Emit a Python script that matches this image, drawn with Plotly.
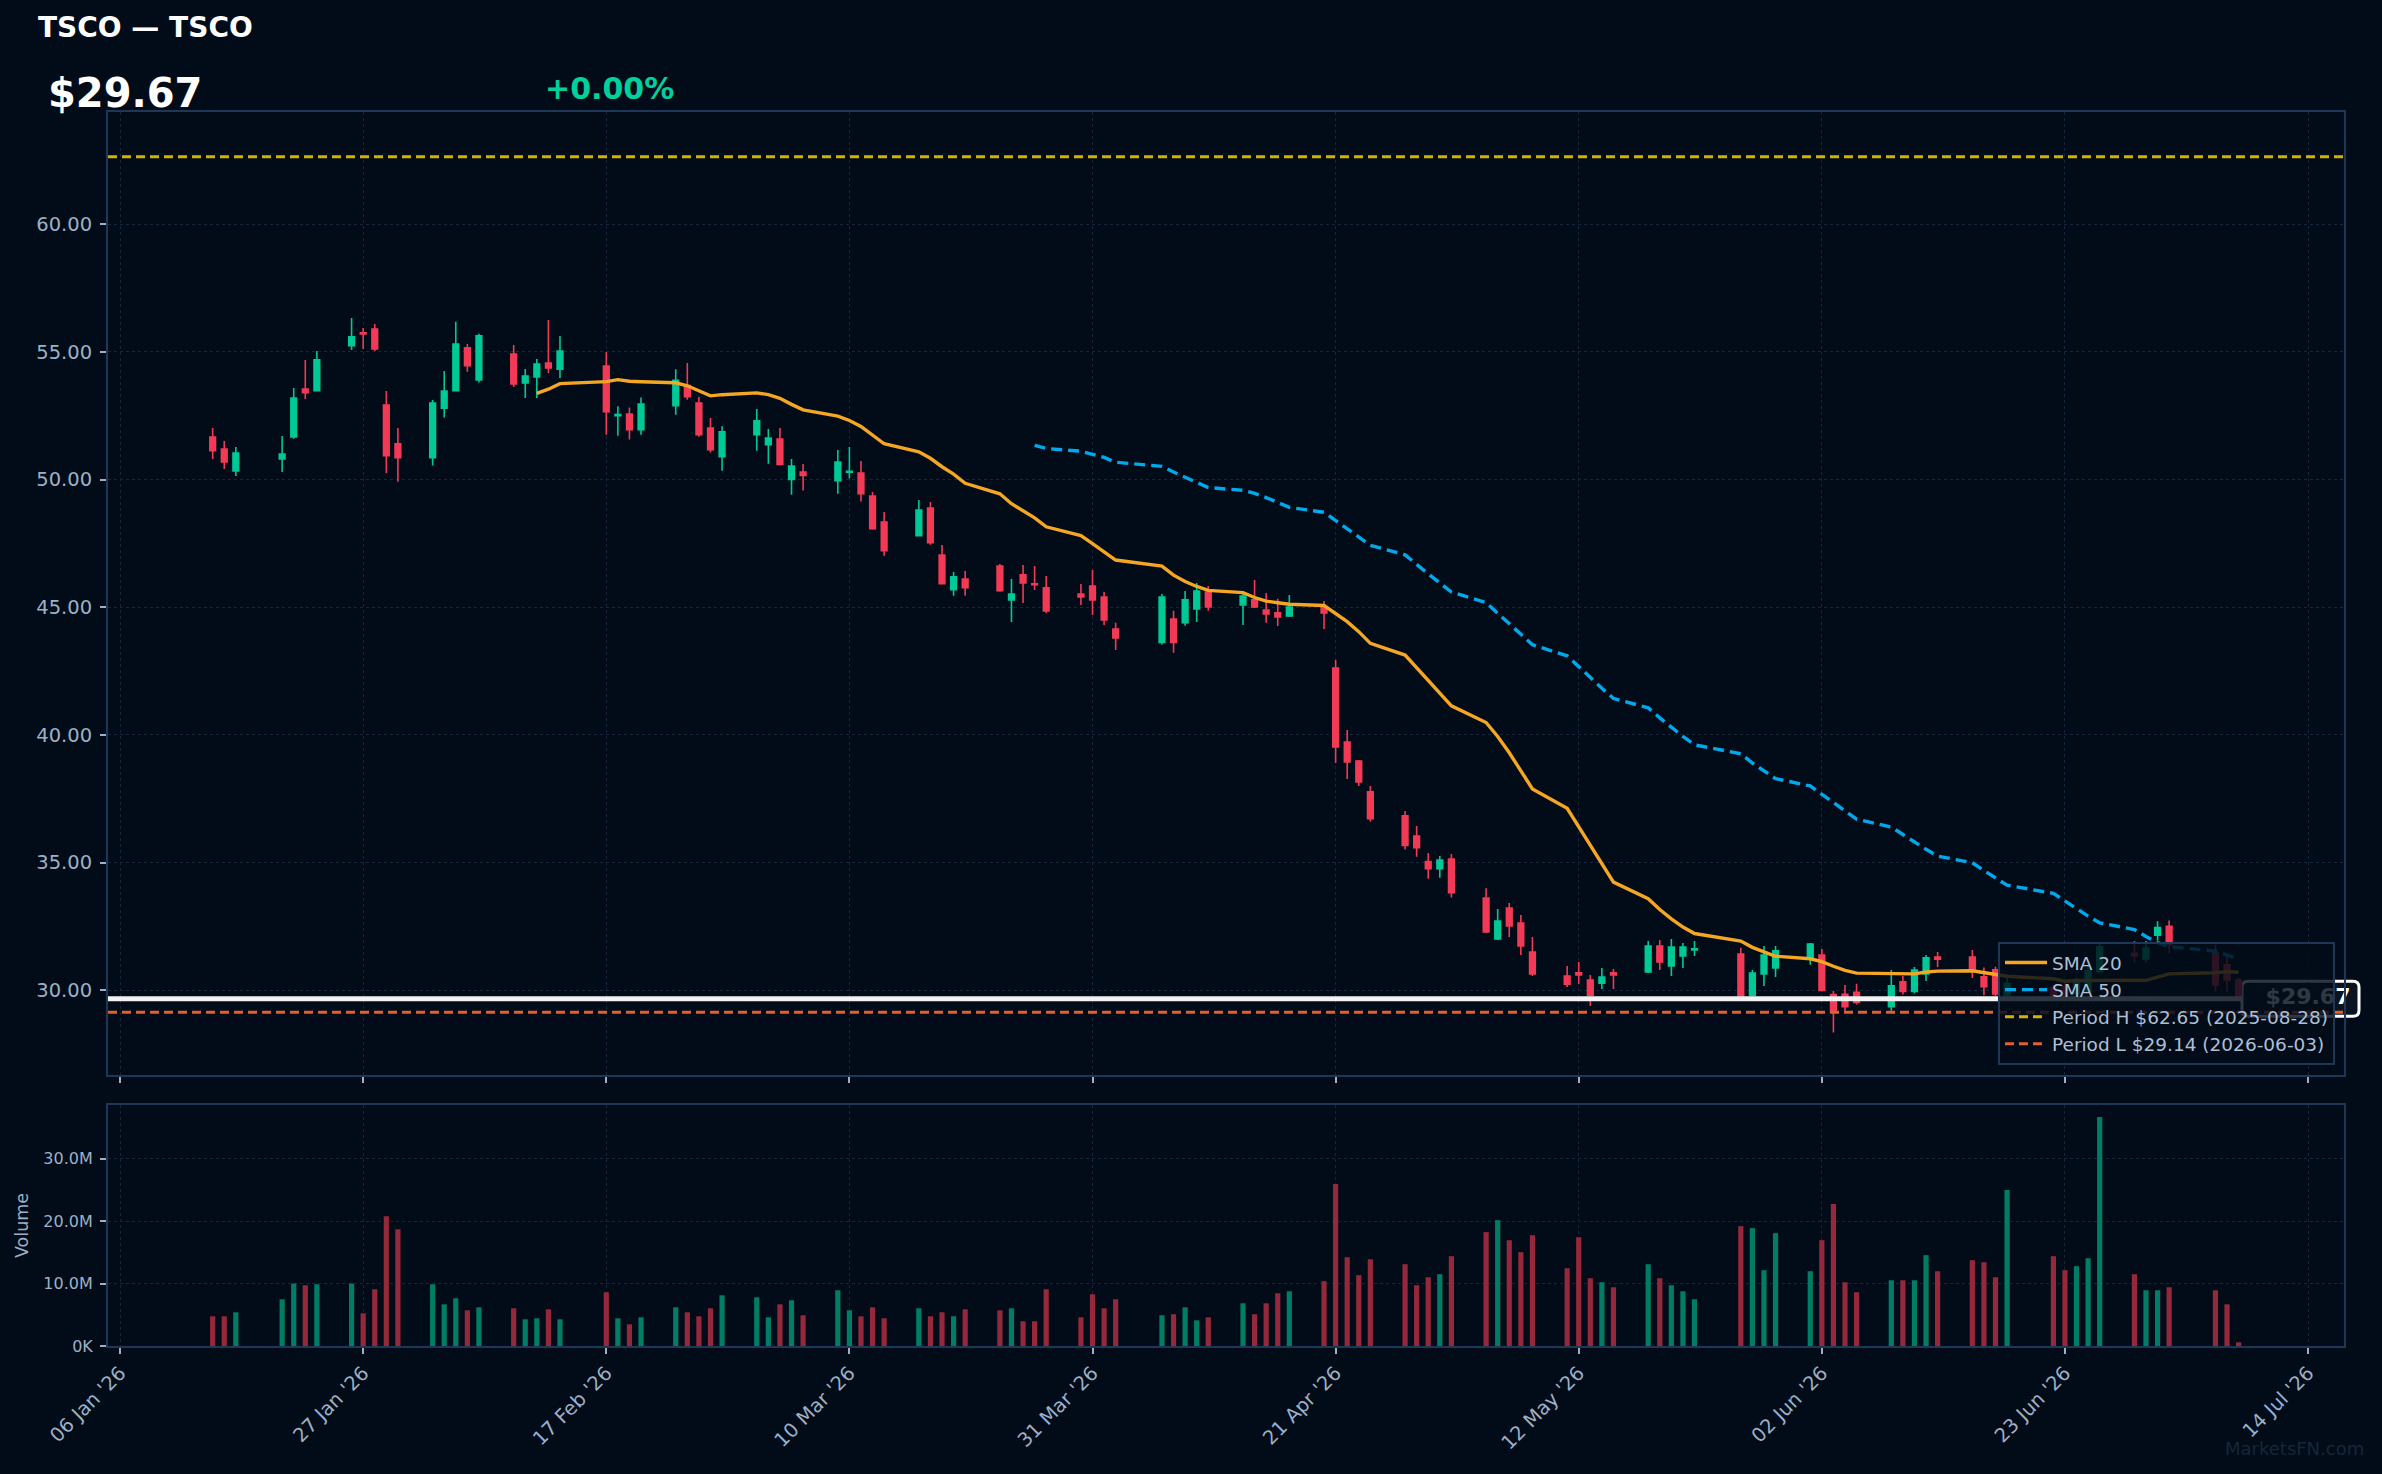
import plotly.graph_objects as go
from plotly.subplots import make_subplots
import pandas as pd

# ---------------- data ----------------
dates = [
    "2026-01-14", "2026-01-15", "2026-01-16",
    "2026-01-20", "2026-01-21", "2026-01-22", "2026-01-23",
    "2026-01-26", "2026-01-27", "2026-01-28", "2026-01-29", "2026-01-30",
    "2026-02-02", "2026-02-03", "2026-02-04", "2026-02-05", "2026-02-06",
    "2026-02-09", "2026-02-10", "2026-02-11", "2026-02-12", "2026-02-13",
    "2026-02-17", "2026-02-18", "2026-02-19", "2026-02-20",
    "2026-02-23", "2026-02-24", "2026-02-25", "2026-02-26", "2026-02-27",
    "2026-03-02", "2026-03-03", "2026-03-04", "2026-03-05", "2026-03-06",
    "2026-03-09", "2026-03-10", "2026-03-11", "2026-03-12", "2026-03-13",
    "2026-03-16", "2026-03-17", "2026-03-18", "2026-03-19", "2026-03-20",
    "2026-03-23", "2026-03-24", "2026-03-25", "2026-03-26", "2026-03-27",
    "2026-03-30", "2026-03-31", "2026-04-01", "2026-04-02",
    "2026-04-06", "2026-04-07", "2026-04-08", "2026-04-09", "2026-04-10",
    "2026-04-13", "2026-04-14", "2026-04-15", "2026-04-16", "2026-04-17",
    "2026-04-20", "2026-04-21", "2026-04-22", "2026-04-23", "2026-04-24",
    "2026-04-27", "2026-04-28", "2026-04-29", "2026-04-30", "2026-05-01",
    "2026-05-04", "2026-05-05", "2026-05-06", "2026-05-07", "2026-05-08",
    "2026-05-11", "2026-05-12", "2026-05-13", "2026-05-14", "2026-05-15",
    "2026-05-18", "2026-05-19", "2026-05-20", "2026-05-21", "2026-05-22",
    "2026-05-26", "2026-05-27", "2026-05-28", "2026-05-29",
    "2026-06-01", "2026-06-02", "2026-06-03", "2026-06-04", "2026-06-05",
    "2026-06-08", "2026-06-09", "2026-06-10", "2026-06-11", "2026-06-12",
    "2026-06-15", "2026-06-16", "2026-06-17", "2026-06-18",
    "2026-06-22", "2026-06-23", "2026-06-24", "2026-06-25", "2026-06-26",
    "2026-06-29", "2026-06-30", "2026-07-01", "2026-07-02",
    "2026-07-06", "2026-07-07", "2026-07-08",
]

opens = [
    51.67, 51.20, 50.34,
    50.81, 51.67, 53.55, 53.48,
    55.25, 55.75, 55.90, 52.92, 51.40,
    50.86, 52.80, 53.48, 55.16, 53.90,
    54.92, 53.79, 54.02, 54.57, 54.33,
    54.45, 52.50, 52.57, 51.96,
    52.90, 53.69, 53.00, 52.02, 50.90,
    51.76, 51.37, 51.59, 50.01, 50.30,
    49.96, 50.29, 50.26, 49.36, 48.34,
    47.80, 48.89, 47.05, 45.69, 46.11,
    46.62, 45.29, 46.27, 45.92, 45.76,
    45.52, 45.83, 45.40, 44.15,
    43.62, 44.54, 44.40, 44.93, 45.60,
    45.09, 45.29, 44.89, 44.78, 44.66,
    45.01, 42.62, 39.72, 38.98, 37.77,
    36.83, 36.04, 35.04, 34.76, 35.14,
    33.61, 32.01, 33.22, 32.63, 31.50,
    30.56, 30.68, 30.40, 30.28, 30.68,
    30.72, 31.73, 30.95, 31.34, 31.58,
    31.42, 29.80, 30.64, 30.87,
    31.27, 31.38, 29.83, 29.84, 29.92,
    29.36, 30.33, 29.95, 30.64, 31.30,
    31.30, 30.53, 30.80, 29.80,
    30.10, 30.15, 29.85, 29.95, 30.73,
    31.45, 31.23, 32.16, 32.50,
    31.46, 31.00, 30.40,
]

highs = [
    52.02, 51.51, 51.28,
    51.71, 53.59, 54.69, 55.04,
    56.33, 55.94, 56.10, 53.47, 52.02,
    53.12, 54.26, 56.18, 55.31, 55.71,
    55.27, 54.33, 54.73, 56.25, 55.63,
    55.00, 52.87, 52.83, 53.22,
    54.32, 54.57, 53.24, 52.41, 52.09,
    52.77, 51.98, 52.02, 50.81, 50.61,
    51.16, 51.28, 50.73, 49.52, 48.73,
    49.20, 49.12, 47.44, 46.38, 46.42,
    46.70, 46.11, 46.66, 46.62, 46.23,
    45.91, 46.46, 45.60, 44.39,
    45.52, 44.86, 45.64, 45.95, 45.83,
    45.52, 46.07, 45.56, 45.33, 45.48,
    45.25, 42.94, 40.19, 39.02, 38.00,
    37.02, 36.43, 35.38, 35.26, 35.34,
    33.99, 33.18, 33.42, 32.95, 32.09,
    30.95, 31.11, 30.60, 30.87, 30.83,
    31.93, 31.97, 32.01, 31.85, 31.93,
    31.66, 30.79, 31.73, 31.73,
    31.85, 31.62, 29.97, 30.21, 30.25,
    30.79, 30.56, 30.91, 31.38, 31.50,
    31.58, 30.89, 30.92, 30.50,
    30.20, 30.30, 30.50, 31.10, 31.83,
    31.93, 31.93, 32.70, 32.73,
    31.78, 31.38, 30.50,
]

lows = [
    50.81, 50.42, 50.14,
    50.30, 51.60, 53.16, 53.45,
    55.08, 55.12, 55.04, 50.26, 49.92,
    50.55, 52.43, 53.45, 54.23, 53.80,
    53.63, 53.20, 53.20, 54.18, 53.98,
    51.76, 51.72, 51.57, 51.76,
    52.54, 53.13, 51.68, 51.06, 50.35,
    51.13, 50.62, 50.55, 49.41, 49.57,
    49.45, 50.04, 49.14, 48.04, 47.02,
    47.78, 47.45, 45.90, 45.45, 45.45,
    45.61, 44.42, 45.17, 45.68, 44.78,
    45.09, 44.70, 44.31, 43.33,
    43.54, 43.22, 44.28, 44.42, 44.86,
    44.31, 44.97, 44.39, 44.27, 44.62,
    44.15, 38.90, 38.27, 38.00, 36.61,
    35.51, 35.23, 34.37, 34.41, 33.63,
    32.24, 31.97, 32.09, 31.38, 30.56,
    30.13, 30.24, 29.38, 30.05, 30.05,
    30.68, 30.79, 30.56, 30.87, 31.34,
    29.68, 29.75, 30.17, 30.52,
    31.00, 29.95, 28.34, 29.16, 29.44,
    29.20, 29.83, 29.87, 30.36, 30.91,
    30.48, 29.80, 29.75, 29.72,
    29.55, 29.60, 29.80, 29.90, 30.70,
    31.10, 31.10, 31.95, 31.46,
    29.95, 29.95, 29.60,
]

closes = [
    51.13, 50.69, 51.04,
    51.00, 53.20, 53.41, 54.69,
    55.59, 55.71, 55.12, 50.94, 50.86,
    53.00, 53.47, 55.31, 54.46, 55.63,
    53.75, 54.06, 54.53, 54.37, 55.04,
    52.66, 52.55, 51.96, 52.96,
    53.89, 53.25, 51.76, 51.17, 51.87,
    52.30, 51.63, 50.59, 50.53, 50.16,
    50.69, 50.33, 49.45, 48.08, 47.22,
    48.81, 47.53, 45.92, 46.19, 45.77,
    45.65, 45.52, 45.95, 45.88, 44.86,
    45.40, 45.29, 44.50, 43.80,
    45.40, 43.62, 45.29, 45.64, 45.01,
    45.44, 45.01, 44.74, 44.62, 45.01,
    44.78, 39.53, 38.94, 38.16, 36.72,
    35.67, 35.58, 34.76, 35.10, 33.82,
    32.28, 32.71, 32.52, 31.73, 30.64,
    30.24, 30.60, 29.81, 30.52, 30.60,
    31.73, 31.11, 31.69, 31.69, 31.62,
    29.75, 30.67, 31.38, 31.54,
    31.81, 29.99, 29.14, 29.36, 29.52,
    30.17, 29.95, 30.79, 31.27, 31.22,
    30.83, 30.14, 29.85, 30.27,
    29.70, 29.75, 30.30, 30.76, 31.70,
    31.35, 31.65, 32.46, 31.78,
    30.21, 30.40, 29.67,
]

volumes_m = [
    4.76, 4.76, 5.40,
    7.49, 10.00, 9.73, 9.89,
    10.00, 5.24, 9.09, 20.80, 18.70,
    9.89, 6.68, 7.65, 5.72, 6.20,
    6.04, 4.28, 4.44, 5.88, 4.28,
    8.61, 4.44, 3.48, 4.60,
    6.20, 5.40, 4.76, 6.04, 8.13,
    7.81, 4.60, 6.68, 7.33, 4.92,
    8.93, 5.72, 4.76, 6.20, 4.44,
    6.04, 4.76, 5.40, 4.76, 5.88,
    5.72, 6.04, 3.96, 3.96, 9.09,
    4.60, 8.29, 6.04, 7.49,
    4.92, 5.08, 6.20, 4.12, 4.60,
    6.84, 5.08, 6.84, 8.45, 8.77,
    10.37, 25.94, 14.22, 11.34, 13.90,
    13.10, 9.73, 11.02, 11.50, 14.39,
    18.24, 20.16, 16.95, 15.03, 17.75,
    12.46, 17.43, 10.86, 10.21, 9.41,
    13.10, 10.86, 9.73, 8.77, 7.49,
    19.20, 18.88, 12.14, 18.07,
    11.98, 16.95, 22.73, 10.21, 8.61,
    10.53, 10.53, 10.53, 14.55, 11.98,
    13.74, 13.42, 11.02, 24.97,
    14.39, 12.14, 12.78, 14.06, 36.68,
    11.50, 8.93, 8.93, 9.41,
    8.93, 6.68, 0.59,
]

ticker = "TSCO"
last_price = 29.67
change_pct = 0.00
period_high = 62.65
period_high_date = "2025-08-28"
period_low = 29.14
period_low_date = "2026-06-03"
vol_tickvals = [0, 10e6, 20e6, 30e6]
vol_ticktext = ["0K", "10.0M", "20.0M", "30.0M"]

# ---------------- styling ----------------
BG = "#010c18"
UP = "#00c896"
DOWN = "#f23a56"
VOL_UP = "#007d64"
VOL_DOWN = "#95283a"
SMA20_C = "#f5a623"
SMA50_C = "#00a8ec"
PH_C = "#d4b106"
PL_C = "#e0602e"
SPINE = "#1e3756"
GRID = "#15263a"
TXT = "#9db0c6"
FONT = "DejaVu Sans"

df = pd.DataFrame({"date": pd.to_datetime(dates), "open": opens, "high": highs,
                   "low": lows, "close": closes, "volume": [v * 1e6 for v in volumes_m]})
df["sma20"] = df["close"].rolling(20).mean()
df["sma50"] = df["close"].rolling(50).mean()
vol_colors = [VOL_UP if c >= o else VOL_DOWN for o, c in zip(df["open"], df["close"])]

W, H = 2382, 1474
ML, MR, MT, MB = 108, 38, 112, 128

fig = make_subplots(rows=2, cols=1, shared_xaxes=True, vertical_spacing=0.0,
                    row_heights=[0.8, 0.2])

fig.add_trace(go.Candlestick(
    x=df["date"], open=df["open"], high=df["high"], low=df["low"], close=df["close"],
    increasing=dict(line=dict(color=UP, width=1.6), fillcolor=UP),
    decreasing=dict(line=dict(color=DOWN, width=1.6), fillcolor=DOWN),
    showlegend=False, name=ticker), row=1, col=1)

fig.add_trace(go.Scatter(x=df["date"], y=df["sma20"], mode="lines", name="SMA 20",
                         line=dict(color=SMA20_C, width=3.4)), row=1, col=1)
fig.add_trace(go.Scatter(x=df["date"], y=df["sma50"], mode="lines", name="SMA 50",
                         line=dict(color=SMA50_C, width=3.4, dash="11px,6px")), row=1, col=1)
fig.add_trace(go.Scatter(x=[None], y=[None], mode="lines",
                         name=f"Period H ${period_high:.2f} ({period_high_date})",
                         line=dict(color=PH_C, width=3, dash="9px,5px")), row=1, col=1)
fig.add_trace(go.Scatter(x=[None], y=[None], mode="lines",
                         name=f"Period L ${period_low:.2f} ({period_low_date})",
                         line=dict(color=PL_C, width=3, dash="9px,5px")), row=1, col=1)

# last price label text (box drawn as a shape below)
fig.add_trace(go.Scatter(x=["2026-07-14"], y=[last_price], mode="text",
                         text=[f"${last_price:.2f}"], cliponaxis=False, showlegend=False,
                         textfont=dict(family=FONT, size=22, color="#ffffff", weight="bold"),
                         hoverinfo="skip"), row=1, col=1)

fig.add_trace(go.Bar(x=df["date"], y=df["volume"], marker=dict(color=vol_colors, line=dict(width=0)),
                     width=0.45 * 86400000, showlegend=False, name="Volume"), row=2, col=1)

plot_h = H - MT - MB
main_bottom = (H - MB - 1075) / plot_h
vol_top = (H - MB - 1105) / plot_h

def paper_x(px):
    return (px - ML) / (W - ML - MR)

def paper_y(py):
    return (H - MB - py) / plot_h

xrange = ["2026-01-04 23:00", "2026-07-17 02:30"]
xcommon = dict(range=xrange, type="date", showgrid=True, gridcolor=GRID, griddash="dot", gridwidth=1,
               showline=True, linecolor=SPINE, linewidth=2, mirror=True,
               ticks="outside", ticklen=6, tickcolor=TXT, tickwidth=1.5,
               tick0="2026-01-06", dtick=21 * 86400000, zeroline=False)
ycommon = dict(showgrid=True, gridcolor=GRID, griddash="dot", gridwidth=1,
               showline=True, linecolor=SPINE, linewidth=2, mirror=True,
               ticks="outside", ticklen=6, tickcolor=TXT, tickwidth=1.5, zeroline=False,
               ticklabelstandoff=4)

fig.update_layout(
    width=W, height=H, paper_bgcolor=BG, plot_bgcolor=BG,
    margin=dict(l=ML, r=MR, t=MT, b=MB, autoexpand=False),
    font=dict(family=FONT, color=TXT),
    xaxis=dict(**xcommon, showticklabels=False, rangeslider=dict(visible=False)),
    xaxis2=dict(**xcommon, showticklabels=True, tickformat="%d %b '%y", tickangle=-45,
                tickfont=dict(family=FONT, size=19.5, color=TXT)),
    yaxis=dict(**ycommon, domain=[main_bottom, 1], range=[26.68, 64.40], dtick=5, tickformat=".2f",
               tickfont=dict(family=FONT, size=19.5, color=TXT)),
    yaxis2=dict(**ycommon, domain=[0, vol_top], range=[0, 38.6e6],
                tickvals=vol_tickvals, ticktext=vol_ticktext,
                tickfont=dict(family=FONT, size=16, color=TXT),
                title=dict(text="Volume", font=dict(family=FONT, size=17.5, color=TXT), standoff=10)),
    showlegend=True,
    legend=dict(x=paper_x(2335), xanchor="right", y=paper_y(1065), yanchor="bottom",
                bgcolor="rgba(1,12,24,0.82)", bordercolor=SPINE, borderwidth=2, itemwidth=42,
                font=dict(family=FONT, size=18.5, color="#aebfd4"), traceorder="normal"),
    hovermode=False,
)

# reference lines
fig.add_shape(type="line", xref="x domain", yref="y", x0=0, x1=1, y0=period_high, y1=period_high,
              line=dict(color=PH_C, width=3, dash="9px,5px"), layer="above")
fig.add_shape(type="line", xref="x domain", yref="y", x0=0, x1=1, y0=period_low, y1=period_low,
              line=dict(color=PL_C, width=3, dash="9px,5px"), layer="above")
fig.add_shape(type="line", xref="x domain", yref="y", x0=0, x1=paper_x(2242), y0=last_price, y1=last_price,
              line=dict(color="#f2f2f2", width=5), layer="above")

# last-price label box (rounded)
bw, bh, r = 58.5, 17.5, 6
box_path = (f"M {-bw + r},{-bh} L {bw - r},{-bh} Q {bw},{-bh} {bw},{-bh + r} "
            f"L {bw},{bh - r} Q {bw},{bh} {bw - r},{bh} L {-bw + r},{bh} "
            f"Q {-bw},{bh} {-bw},{bh - r} L {-bw},{-bh + r} Q {-bw},{-bh} {-bw + r},{-bh} Z")
fig.add_shape(type="path", xref="paper", yref="y", xsizemode="pixel", ysizemode="pixel",
              xanchor=paper_x(2300.5), yanchor=last_price, path=box_path,
              fillcolor="#0a1420", line=dict(color="#ffffff", width=3), layer="below")

# header texts
fig.add_annotation(xref="paper", yref="paper", x=paper_x(36), y=paper_y(27), xanchor="left", yanchor="middle",
                   text=f"<b>{ticker} — {ticker}</b>", showarrow=False,
                   font=dict(family=FONT, size=28, color="#ffffff"))
fig.add_annotation(xref="paper", yref="paper", x=paper_x(46), y=paper_y(93), xanchor="left", yanchor="middle",
                   text=f"<b>${last_price:.2f}</b>", showarrow=False,
                   font=dict(family=FONT, size=40, color="#ffffff"))
fig.add_annotation(xref="paper", yref="paper", x=paper_x(543), y=paper_y(88), xanchor="left", yanchor="middle",
                   text=f"<b>+{change_pct:.2f}%</b>", showarrow=False,
                   font=dict(family=FONT, size=30, color="#00d09c"))
fig.add_annotation(xref="paper", yref="paper", x=paper_x(2294), y=paper_y(1448), xanchor="center", yanchor="middle",
                   text="MarketsFN.com", showarrow=False,
                   font=dict(family=FONT, size=18, color="#17263a"))

fig.write_html("out.html")
